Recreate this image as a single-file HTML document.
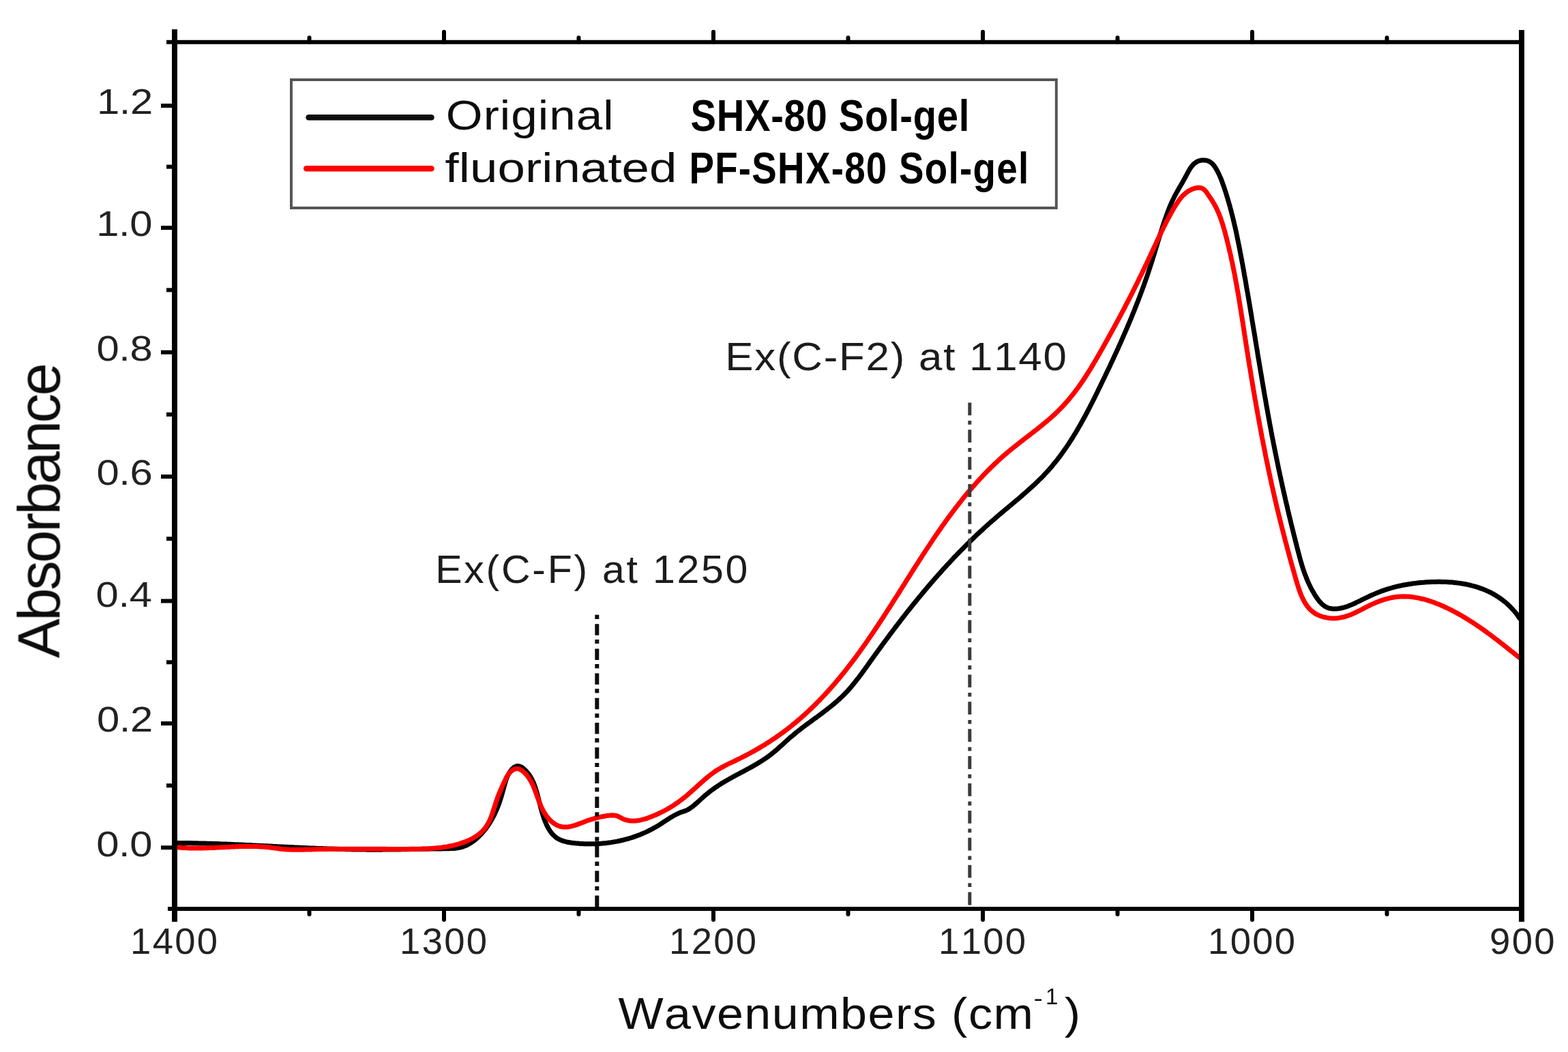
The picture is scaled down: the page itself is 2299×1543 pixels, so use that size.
<!DOCTYPE html>
<html><head><meta charset="utf-8"><title>Absorbance spectra</title>
<style>
html,body{margin:0;padding:0;background:#fff;}
body{width:2299px;height:1543px;overflow:hidden;}
svg{display:block;}
</style></head>
<body>
<svg width="2299" height="1543" viewBox="0 0 2299 1543">
<defs><filter id="soft" x="0" y="0" width="100%" height="100%" filterUnits="userSpaceOnUse"><feGaussianBlur stdDeviation="0.55"/></filter></defs>
<rect width="2299" height="1543" fill="#fff"/>
<g filter="url(#soft)">
<defs><clipPath id="pc"><rect x="256.0" y="61.7" width="1975.0" height="1271.3"/></clipPath></defs>
<g clip-path="url(#pc)" fill="none" stroke-linejoin="round" stroke-linecap="round">
<path d="M256.1,1236.4 259.1,1236.4 262.1,1236.5 265.1,1236.5 268.1,1236.5 271.1,1236.5 274.1,1236.6 277.1,1236.6 280.1,1236.6 283.1,1236.7 286.1,1236.7 289.1,1236.8 292.1,1236.9 295.1,1236.9 298.1,1237.0 301.1,1237.1 304.1,1237.2 307.1,1237.3 310.1,1237.3 313.1,1237.4 316.1,1237.5 319.1,1237.6 322.1,1237.7 325.1,1237.9 328.1,1238.0 331.1,1238.1 334.1,1238.2 337.1,1238.3 340.1,1238.4 343.1,1238.6 346.1,1238.7 349.1,1238.8 352.1,1239.0 355.1,1239.1 358.1,1239.2 361.1,1239.4 364.1,1239.5 367.1,1239.6 370.1,1239.8 373.1,1239.9 376.1,1240.1 379.1,1240.2 382.1,1240.4 385.1,1240.5 388.1,1240.7 391.1,1240.8 394.1,1241.0 397.1,1241.1 400.1,1241.3 403.1,1241.4 406.1,1241.6 409.1,1241.7 412.1,1241.9 415.1,1242.0 418.1,1242.2 421.1,1242.3 424.1,1242.5 427.1,1242.6 430.1,1242.7 433.1,1242.9 436.1,1243.0 439.1,1243.2 442.1,1243.3 445.1,1243.5 448.1,1243.6 451.1,1243.7 454.1,1243.9 457.1,1244.0 460.1,1244.1 463.1,1244.2 466.1,1244.4 469.1,1244.5 472.1,1244.6 475.1,1244.7 478.1,1244.8 481.1,1244.9 484.1,1245.0 487.1,1245.1 490.1,1245.2 493.1,1245.3 496.1,1245.4 499.1,1245.5 502.1,1245.6 505.1,1245.6 508.1,1245.7 511.1,1245.8 514.1,1245.8 517.1,1245.9 520.1,1245.9 523.1,1246.0 526.1,1246.0 529.1,1246.1 532.2,1246.1 535.2,1246.1 538.2,1246.2 541.2,1246.2 544.2,1246.2 547.2,1246.2 550.2,1246.2 553.2,1246.2 556.2,1246.2 559.2,1246.2 562.2,1246.1 565.2,1246.1 568.2,1246.1 571.2,1246.1 574.2,1246.0 577.2,1246.0 580.2,1246.0 583.2,1245.9 586.2,1245.9 589.2,1245.8 592.2,1245.8 595.2,1245.7 598.2,1245.7 601.2,1245.6 604.2,1245.6 607.2,1245.5 610.2,1245.5 613.2,1245.4 616.2,1245.4 619.2,1245.3 622.2,1245.3 625.2,1245.2 628.2,1245.2 631.2,1245.1 634.2,1245.1 637.2,1245.0 640.3,1245.0 643.3,1244.9 646.3,1244.9 649.3,1244.8 652.3,1244.8 655.3,1244.8 658.3,1244.7 661.3,1244.6 664.3,1244.5 667.3,1244.2 670.2,1243.8 673.2,1243.3 676.1,1242.7 679.0,1241.8 681.8,1240.8 684.6,1239.5 687.2,1238.2 689.8,1236.6 692.3,1235.0 694.8,1233.2 697.1,1231.4 699.4,1229.4 701.6,1227.4 703.7,1225.3 705.8,1223.1 707.8,1220.8 709.7,1218.5 711.6,1216.2 713.4,1213.8 715.1,1211.3 716.8,1208.9 718.5,1206.3 720.0,1203.8 721.5,1201.2 722.9,1198.5 724.3,1195.9 725.6,1193.2 726.9,1190.4 728.1,1187.7 729.2,1184.9 730.3,1182.1 731.4,1179.3 732.4,1176.4 733.3,1173.6 734.3,1170.7 735.1,1167.9 736.0,1165.0 736.8,1162.1 737.6,1159.2 738.4,1156.3 739.2,1153.4 740.0,1150.5 740.8,1147.6 741.7,1144.8 742.7,1141.9 743.8,1139.2 745.1,1136.4 746.5,1133.8 748.1,1131.3 750.0,1128.9 752.0,1126.7 754.4,1124.9 757.2,1123.8 760.2,1123.6 763.1,1124.3 765.7,1125.8 768.1,1127.7 770.2,1129.7 772.3,1131.9 774.2,1134.2 776.0,1136.6 777.6,1139.2 779.2,1141.7 780.5,1144.4 781.8,1147.1 783.0,1149.9 784.0,1152.7 785.0,1155.5 785.9,1158.4 786.8,1161.3 787.6,1164.2 788.4,1167.1 789.1,1170.0 789.9,1172.9 790.6,1175.8 791.3,1178.7 792.1,1181.6 792.8,1184.5 793.6,1187.4 794.4,1190.3 795.3,1193.2 796.2,1196.1 797.1,1198.9 798.1,1201.8 799.2,1204.6 800.3,1207.3 801.5,1210.1 802.9,1212.8 804.3,1215.4 805.9,1218.0 807.6,1220.4 809.4,1222.8 811.5,1225.0 813.7,1227.0 816.1,1228.9 818.6,1230.4 821.3,1231.8 824.1,1232.9 826.9,1233.9 829.8,1234.6 832.8,1235.3 835.7,1235.8 838.7,1236.2 841.7,1236.6 844.7,1236.9 847.7,1237.1 850.7,1237.4 853.7,1237.5 856.7,1237.7 859.7,1237.8 862.7,1237.8 865.7,1237.8 868.7,1237.8 871.7,1237.7 874.7,1237.6 877.7,1237.5 880.7,1237.3 883.7,1237.0 886.6,1236.7 889.6,1236.4 892.6,1236.0 895.6,1235.6 898.6,1235.1 901.5,1234.6 904.5,1234.1 907.4,1233.5 910.3,1232.8 913.3,1232.2 916.2,1231.4 919.1,1230.7 922.0,1229.8 924.8,1229.0 927.7,1228.1 930.5,1227.1 933.4,1226.1 936.2,1225.0 939.0,1223.9 941.8,1222.8 944.5,1221.6 947.3,1220.4 950.0,1219.1 952.7,1217.7 955.3,1216.4 958.0,1214.9 960.6,1213.5 963.2,1212.0 965.8,1210.4 968.3,1208.8 970.8,1207.2 973.3,1205.5 975.8,1203.9 978.4,1202.2 980.9,1200.6 983.4,1199.0 986.0,1197.5 988.6,1196.0 991.3,1194.6 994.0,1193.3 996.7,1192.1 999.5,1191.0 1002.4,1190.1 1005.2,1189.1 1008.0,1187.9 1010.6,1186.4 1013.0,1184.7 1015.4,1182.9 1017.8,1181.0 1020.1,1179.0 1022.3,1177.1 1024.5,1175.1 1026.8,1173.0 1029.0,1171.0 1031.2,1169.0 1033.5,1167.0 1035.8,1165.1 1038.1,1163.2 1040.4,1161.3 1042.8,1159.5 1045.2,1157.7 1047.7,1156.0 1050.2,1154.2 1052.7,1152.6 1055.2,1150.9 1057.7,1149.3 1060.3,1147.8 1062.8,1146.2 1065.4,1144.7 1068.0,1143.2 1070.7,1141.7 1073.3,1140.3 1075.9,1138.8 1078.6,1137.4 1081.2,1136.0 1083.9,1134.6 1086.5,1133.2 1089.2,1131.8 1091.8,1130.4 1094.5,1128.9 1097.1,1127.5 1099.7,1126.1 1102.4,1124.6 1105.0,1123.1 1107.6,1121.6 1110.2,1120.1 1112.7,1118.6 1115.3,1117.0 1117.8,1115.4 1120.3,1113.7 1122.8,1112.1 1125.3,1110.3 1127.7,1108.6 1130.1,1106.7 1132.5,1104.9 1134.8,1103.0 1137.1,1101.0 1139.4,1099.1 1141.6,1097.1 1143.8,1095.1 1146.1,1093.1 1148.3,1091.1 1150.5,1089.0 1152.7,1087.0 1155.0,1085.0 1157.2,1083.0 1159.5,1081.0 1161.8,1079.1 1164.1,1077.2 1166.4,1075.3 1168.7,1073.4 1171.1,1071.5 1173.5,1069.7 1175.8,1067.8 1178.2,1066.0 1180.6,1064.2 1183.0,1062.4 1185.5,1060.6 1187.9,1058.9 1190.3,1057.1 1192.7,1055.3 1195.1,1053.5 1197.6,1051.8 1200.0,1050.0 1202.4,1048.2 1204.8,1046.4 1207.2,1044.6 1209.6,1042.8 1212.0,1041.0 1214.4,1039.1 1216.7,1037.3 1219.0,1035.4 1221.4,1033.5 1223.7,1031.5 1225.9,1029.6 1228.2,1027.6 1230.4,1025.6 1232.6,1023.5 1234.8,1021.5 1237.0,1019.4 1239.1,1017.2 1241.1,1015.1 1243.2,1012.9 1245.2,1010.6 1247.2,1008.4 1249.1,1006.1 1251.0,1003.8 1252.9,1001.4 1254.8,999.1 1256.6,996.7 1258.5,994.3 1260.3,992.0 1262.1,989.5 1263.9,987.1 1265.7,984.7 1267.4,982.3 1269.2,979.8 1270.9,977.4 1272.7,975.0 1274.4,972.5 1276.1,970.1 1277.9,967.6 1279.6,965.2 1281.4,962.7 1283.1,960.3 1284.9,957.9 1286.7,955.4 1288.4,953.0 1290.2,950.6 1292.0,948.1 1293.7,945.7 1295.5,943.3 1297.3,940.9 1299.1,938.5 1300.9,936.1 1302.7,933.6 1304.4,931.2 1306.2,928.8 1308.1,926.4 1309.9,924.0 1311.7,921.6 1313.5,919.2 1315.3,916.9 1317.1,914.5 1319.0,912.1 1320.8,909.7 1322.6,907.3 1324.5,905.0 1326.3,902.6 1328.2,900.2 1330.0,897.9 1331.9,895.5 1333.8,893.2 1335.6,890.8 1337.5,888.5 1339.4,886.1 1341.3,883.8 1343.2,881.5 1345.1,879.1 1347.0,876.8 1348.9,874.5 1350.8,872.2 1352.7,869.9 1354.6,867.6 1356.6,865.3 1358.5,863.0 1360.4,860.7 1362.4,858.4 1364.4,856.1 1366.3,853.8 1368.3,851.6 1370.3,849.3 1372.2,847.0 1374.2,844.8 1376.2,842.5 1378.2,840.3 1380.2,838.1 1382.2,835.8 1384.2,833.6 1386.3,831.4 1388.3,829.2 1390.3,827.0 1392.4,824.8 1394.4,822.6 1396.5,820.4 1398.5,818.2 1400.6,816.0 1402.7,813.9 1404.8,811.7 1406.9,809.5 1409.0,807.4 1411.1,805.3 1413.2,803.1 1415.3,801.0 1417.4,798.9 1419.6,796.8 1421.7,794.7 1423.8,792.6 1426.0,790.5 1428.2,788.4 1430.3,786.3 1432.5,784.2 1434.7,782.2 1436.9,780.1 1439.1,778.1 1441.3,776.1 1443.5,774.0 1445.7,772.0 1448.0,770.0 1450.2,768.0 1452.5,766.0 1454.7,764.0 1457.0,762.1 1459.3,760.1 1461.5,758.1 1463.8,756.2 1466.1,754.2 1468.4,752.3 1470.7,750.4 1473.0,748.4 1475.3,746.5 1477.6,744.6 1479.9,742.6 1482.2,740.7 1484.5,738.8 1486.8,736.9 1489.1,734.9 1491.4,733.0 1493.7,731.1 1496.0,729.1 1498.3,727.2 1500.5,725.2 1502.8,723.2 1505.1,721.2 1507.3,719.2 1509.5,717.2 1511.8,715.2 1514.0,713.2 1516.2,711.2 1518.4,709.1 1520.5,707.0 1522.7,704.9 1524.8,702.8 1527.0,700.7 1529.1,698.6 1531.1,696.4 1533.2,694.2 1535.2,692.0 1537.2,689.8 1539.2,687.5 1541.2,685.2 1543.1,682.9 1545.0,680.6 1546.9,678.3 1548.8,676.0 1550.7,673.6 1552.5,671.2 1554.3,668.8 1556.1,666.4 1557.8,664.0 1559.6,661.5 1561.3,659.1 1563.0,656.6 1564.7,654.1 1566.4,651.6 1568.0,649.1 1569.6,646.6 1571.3,644.0 1572.9,641.5 1574.4,638.9 1576.0,636.4 1577.6,633.8 1579.1,631.2 1580.6,628.6 1582.1,626.0 1583.6,623.4 1585.1,620.8 1586.5,618.2 1588.0,615.6 1589.4,612.9 1590.9,610.3 1592.3,607.6 1593.7,605.0 1595.1,602.3 1596.5,599.7 1597.9,597.0 1599.2,594.3 1600.6,591.7 1602.0,589.0 1603.3,586.3 1604.7,583.6 1606.0,580.9 1607.3,578.2 1608.7,575.5 1610.0,572.8 1611.3,570.1 1612.6,567.4 1613.9,564.7 1615.2,562.0 1616.5,559.3 1617.8,556.6 1619.1,553.9 1620.4,551.2 1621.7,548.5 1623.0,545.8 1624.3,543.1 1625.6,540.4 1626.9,537.7 1628.2,534.9 1629.4,532.2 1630.7,529.5 1632.0,526.8 1633.2,524.0 1634.5,521.3 1635.7,518.6 1637.0,515.9 1638.2,513.1 1639.5,510.4 1640.7,507.7 1641.9,504.9 1643.2,502.2 1644.4,499.4 1645.6,496.7 1646.8,493.9 1648.0,491.2 1649.2,488.4 1650.4,485.7 1651.6,482.9 1652.8,480.1 1653.9,477.4 1655.1,474.6 1656.3,471.8 1657.4,469.1 1658.6,466.3 1659.7,463.5 1660.8,460.7 1662.0,458.0 1663.1,455.2 1664.2,452.4 1665.3,449.6 1666.4,446.8 1667.5,444.0 1668.6,441.2 1669.7,438.4 1670.7,435.6 1671.8,432.8 1672.8,430.0 1673.9,427.2 1674.9,424.3 1676.0,421.5 1677.0,418.7 1678.0,415.9 1679.0,413.0 1680.0,410.2 1681.0,407.4 1682.0,404.5 1682.9,401.7 1683.9,398.8 1684.8,396.0 1685.8,393.1 1686.7,390.3 1687.6,387.4 1688.5,384.6 1689.5,381.7 1690.3,378.8 1691.2,376.0 1692.1,373.1 1693.0,370.2 1693.9,367.3 1694.7,364.5 1695.6,361.6 1696.5,358.7 1697.3,355.9 1698.2,353.0 1699.1,350.1 1700.0,347.2 1700.9,344.4 1701.8,341.5 1702.7,338.6 1703.6,335.8 1704.5,332.9 1705.4,330.1 1706.4,327.2 1707.3,324.4 1708.3,321.5 1709.3,318.7 1710.3,315.9 1711.4,313.0 1712.4,310.2 1713.5,307.4 1714.6,304.6 1715.7,301.9 1716.9,299.1 1718.1,296.4 1719.4,293.6 1720.7,290.9 1722.0,288.2 1723.4,285.6 1724.9,282.9 1726.3,280.3 1727.8,277.7 1729.3,275.1 1730.8,272.5 1732.4,269.9 1733.8,267.3 1735.3,264.7 1736.8,262.1 1738.2,259.4 1739.6,256.8 1741.0,254.1 1742.4,251.5 1743.9,248.9 1745.5,246.3 1747.3,243.9 1749.3,241.6 1751.4,239.6 1753.9,237.8 1756.5,236.4 1759.4,235.5 1762.3,235.0 1765.3,234.9 1768.3,235.2 1771.2,236.0 1773.9,237.3 1776.3,239.0 1778.5,241.1 1780.4,243.5 1782.1,245.9 1783.6,248.5 1785.0,251.2 1786.4,253.8 1787.7,256.6 1788.9,259.3 1790.1,262.1 1791.2,264.9 1792.2,267.7 1793.2,270.5 1794.2,273.3 1795.2,276.2 1796.1,279.0 1797.1,281.9 1798.0,284.8 1798.8,287.6 1799.7,290.5 1800.6,293.4 1801.4,296.3 1802.2,299.1 1803.1,302.0 1803.8,304.9 1804.6,307.8 1805.4,310.7 1806.1,313.6 1806.9,316.6 1807.6,319.5 1808.3,322.4 1809.0,325.3 1809.7,328.2 1810.4,331.2 1811.1,334.1 1811.7,337.0 1812.4,339.9 1813.0,342.9 1813.6,345.8 1814.2,348.8 1814.8,351.7 1815.4,354.6 1816.0,357.6 1816.6,360.5 1817.2,363.5 1817.8,366.4 1818.3,369.4 1818.9,372.3 1819.5,375.3 1820.0,378.2 1820.6,381.2 1821.1,384.1 1821.7,387.1 1822.2,390.0 1822.7,393.0 1823.3,395.9 1823.8,398.9 1824.3,401.9 1824.8,404.8 1825.4,407.8 1825.9,410.7 1826.4,413.7 1826.9,416.6 1827.4,419.6 1827.9,422.6 1828.4,425.5 1829.0,428.5 1829.5,431.4 1830.0,434.4 1830.5,437.4 1831.0,440.3 1831.5,443.3 1832.0,446.2 1832.5,449.2 1833.0,452.2 1833.5,455.1 1834.0,458.1 1834.5,461.1 1835.0,464.0 1835.4,467.0 1835.9,469.9 1836.4,472.9 1836.9,475.9 1837.4,478.8 1837.9,481.8 1838.4,484.8 1838.9,487.7 1839.4,490.7 1839.9,493.6 1840.3,496.6 1840.8,499.6 1841.3,502.5 1841.8,505.5 1842.3,508.5 1842.8,511.4 1843.3,514.4 1843.8,517.4 1844.2,520.3 1844.7,523.3 1845.2,526.2 1845.7,529.2 1846.2,532.2 1846.7,535.1 1847.2,538.1 1847.7,541.1 1848.2,544.0 1848.7,547.0 1849.2,549.9 1849.7,552.9 1850.2,555.9 1850.7,558.8 1851.2,561.8 1851.7,564.7 1852.2,567.7 1852.7,570.7 1853.2,573.6 1853.7,576.6 1854.2,579.5 1854.7,582.5 1855.3,585.5 1855.8,588.4 1856.3,591.4 1856.8,594.3 1857.3,597.3 1857.9,600.2 1858.4,603.2 1858.9,606.2 1859.5,609.1 1860.0,612.1 1860.5,615.0 1861.1,618.0 1861.6,620.9 1862.2,623.9 1862.7,626.8 1863.3,629.8 1863.8,632.7 1864.4,635.7 1864.9,638.6 1865.5,641.6 1866.1,644.5 1866.7,647.5 1867.2,650.4 1867.8,653.4 1868.4,656.3 1869.0,659.3 1869.6,662.2 1870.2,665.2 1870.8,668.1 1871.4,671.0 1872.0,674.0 1872.6,676.9 1873.2,679.9 1873.8,682.8 1874.4,685.7 1875.0,688.7 1875.7,691.6 1876.3,694.6 1876.9,697.5 1877.6,700.4 1878.2,703.4 1878.8,706.3 1879.5,709.2 1880.1,712.2 1880.8,715.1 1881.4,718.0 1882.1,720.9 1882.7,723.9 1883.4,726.8 1884.1,729.7 1884.7,732.7 1885.4,735.6 1886.1,738.5 1886.8,741.4 1887.5,744.4 1888.1,747.3 1888.8,750.2 1889.5,753.1 1890.2,756.1 1890.9,759.0 1891.6,761.9 1892.3,764.8 1893.0,767.7 1893.7,770.7 1894.5,773.6 1895.2,776.5 1895.9,779.4 1896.6,782.3 1897.3,785.2 1898.1,788.1 1898.8,791.1 1899.5,794.0 1900.3,796.9 1901.0,799.8 1901.7,802.7 1902.5,805.6 1903.2,808.5 1904.0,811.4 1904.8,814.3 1905.5,817.2 1906.3,820.1 1907.1,823.0 1908.0,825.9 1908.8,828.8 1909.7,831.6 1910.6,834.5 1911.6,837.4 1912.6,840.2 1913.6,843.0 1914.7,845.8 1915.8,848.6 1916.9,851.4 1918.1,854.1 1919.4,856.9 1920.7,859.6 1922.0,862.3 1923.4,864.9 1924.9,867.5 1926.4,870.1 1927.9,872.7 1929.6,875.2 1931.3,877.7 1933.0,880.1 1934.9,882.5 1937.0,884.7 1939.1,886.7 1941.5,888.6 1944.0,890.2 1946.8,891.5 1949.6,892.3 1952.6,892.8 1955.6,893.0 1958.6,893.0 1961.6,892.7 1964.5,892.3 1967.5,891.7 1970.4,891.0 1973.3,890.2 1976.1,889.2 1978.9,888.1 1981.7,887.0 1984.5,885.8 1987.2,884.5 1989.9,883.2 1992.6,881.9 1995.3,880.6 1998.0,879.2 2000.7,877.9 2003.4,876.6 2006.1,875.3 2008.8,874.0 2011.5,872.8 2014.3,871.6 2017.1,870.4 2019.8,869.3 2022.6,868.2 2025.4,867.1 2028.3,866.1 2031.1,865.1 2034.0,864.2 2036.8,863.3 2039.7,862.5 2042.6,861.7 2045.5,860.9 2048.4,860.2 2051.4,859.5 2054.3,858.9 2057.2,858.3 2060.2,857.7 2063.1,857.2 2066.1,856.7 2069.1,856.3 2072.1,855.8 2075.0,855.5 2078.0,855.1 2081.0,854.8 2084.0,854.5 2087.0,854.3 2090.0,854.0 2093.0,853.8 2096.0,853.7 2099.0,853.5 2102.0,853.4 2105.0,853.4 2108.0,853.3 2111.0,853.3 2114.0,853.4 2117.0,853.4 2120.0,853.6 2123.0,853.7 2126.0,853.9 2129.0,854.1 2132.0,854.4 2135.0,854.7 2137.9,855.1 2140.9,855.5 2143.9,856.0 2146.8,856.5 2149.8,857.0 2152.7,857.7 2155.6,858.3 2158.6,859.1 2161.5,859.8 2164.3,860.7 2167.2,861.6 2170.0,862.6 2172.9,863.6 2175.7,864.7 2178.4,865.8 2181.2,867.1 2183.9,868.3 2186.6,869.7 2189.2,871.1 2191.8,872.6 2194.4,874.2 2196.9,875.8 2199.4,877.5 2201.8,879.2 2204.2,881.0 2206.6,882.9 2208.9,884.9 2211.1,886.9 2213.3,889.0 2215.4,891.1 2217.4,893.3 2219.4,895.5 2221.4,897.8 2223.3,900.1 2225.1,902.5 2226.8,905.0 2228.5,907.4" stroke="#000" stroke-width="7"/>
<path d="M256.0,1242.4 259.0,1242.7 262.0,1243.0 265.0,1243.3 268.0,1243.5 271.0,1243.6 274.0,1243.8 277.0,1243.9 280.0,1244.0 283.0,1244.0 286.0,1244.0 289.0,1244.0 292.0,1244.0 295.0,1244.0 298.0,1243.9 301.0,1243.8 304.0,1243.7 307.0,1243.6 310.0,1243.5 313.0,1243.4 316.0,1243.2 319.0,1243.1 322.0,1243.0 325.0,1242.8 328.0,1242.7 331.0,1242.5 334.0,1242.4 337.1,1242.2 340.1,1242.1 343.1,1242.0 346.1,1241.8 349.1,1241.7 352.1,1241.6 355.1,1241.6 358.1,1241.5 361.1,1241.5 364.1,1241.5 367.1,1241.5 370.1,1241.5 373.1,1241.5 376.1,1241.6 379.1,1241.7 382.1,1241.9 385.1,1242.1 388.1,1242.3 391.1,1242.5 394.1,1242.8 397.1,1243.2 400.1,1243.5 403.0,1244.0 406.0,1244.4 409.0,1244.8 412.0,1245.2 415.0,1245.5 418.0,1245.7 421.0,1245.9 424.0,1246.1 427.0,1246.2 430.0,1246.3 433.0,1246.3 436.0,1246.3 439.0,1246.3 442.0,1246.3 445.0,1246.2 448.0,1246.1 451.0,1246.0 454.0,1246.0 457.0,1245.9 460.0,1245.8 463.0,1245.7 466.0,1245.6 469.0,1245.6 472.0,1245.5 475.0,1245.5 478.1,1245.4 481.1,1245.4 484.1,1245.3 487.1,1245.3 490.1,1245.3 493.1,1245.2 496.1,1245.2 499.1,1245.2 502.1,1245.2 505.1,1245.2 508.1,1245.2 511.1,1245.2 514.1,1245.2 517.1,1245.2 520.1,1245.2 523.1,1245.2 526.1,1245.2 529.1,1245.2 532.1,1245.2 535.2,1245.2 538.2,1245.2 541.2,1245.2 544.2,1245.2 547.2,1245.3 550.2,1245.3 553.2,1245.3 556.2,1245.3 559.2,1245.3 562.2,1245.3 565.2,1245.3 568.2,1245.4 571.2,1245.4 574.2,1245.4 577.2,1245.4 580.2,1245.4 583.2,1245.4 586.2,1245.4 589.3,1245.4 592.3,1245.4 595.3,1245.4 598.3,1245.4 601.3,1245.3 604.3,1245.3 607.3,1245.3 610.3,1245.3 613.3,1245.2 616.3,1245.2 619.3,1245.1 622.3,1245.0 625.3,1244.9 628.3,1244.7 631.3,1244.5 634.3,1244.3 637.3,1244.1 640.3,1243.8 643.3,1243.5 646.3,1243.2 649.3,1242.8 652.2,1242.3 655.2,1241.9 658.2,1241.3 661.1,1240.7 664.0,1240.1 667.0,1239.4 669.9,1238.6 672.8,1237.8 675.6,1236.9 678.5,1235.9 681.3,1234.9 684.1,1233.8 686.9,1232.6 689.6,1231.4 692.3,1230.0 694.9,1228.5 697.4,1227.0 699.9,1225.3 702.3,1223.5 704.7,1221.6 706.9,1219.5 708.9,1217.3 710.9,1215.1 712.7,1212.6 714.3,1210.1 715.8,1207.5 717.2,1204.8 718.4,1202.1 719.6,1199.3 720.7,1196.5 721.7,1193.7 722.6,1190.9 723.6,1188.0 724.5,1185.1 725.4,1182.3 726.3,1179.4 727.2,1176.5 728.2,1173.7 729.2,1170.9 730.2,1168.0 731.3,1165.2 732.5,1162.5 733.6,1159.7 734.8,1156.9 736.0,1154.2 737.3,1151.4 738.5,1148.7 739.8,1146.0 741.1,1143.3 742.4,1140.6 743.9,1138.0 745.6,1135.5 747.5,1133.1 749.6,1131.0 752.0,1129.3 754.8,1128.0 757.7,1127.4 760.7,1127.8 763.4,1129.0 765.9,1130.7 768.2,1132.6 770.3,1134.7 772.3,1136.9 774.2,1139.3 775.9,1141.8 777.5,1144.3 779.0,1146.9 780.3,1149.6 781.6,1152.3 782.8,1155.1 783.9,1157.9 784.9,1160.7 786.0,1163.5 787.0,1166.4 788.0,1169.2 789.0,1172.0 790.1,1174.8 791.2,1177.6 792.3,1180.4 793.5,1183.2 794.8,1185.9 796.1,1188.6 797.6,1191.2 799.2,1193.8 800.9,1196.3 802.7,1198.6 804.6,1200.9 806.7,1203.1 808.9,1205.2 811.2,1207.0 813.7,1208.7 816.3,1210.2 819.1,1211.4 821.9,1212.3 824.9,1212.9 827.9,1213.1 830.9,1213.0 833.9,1212.7 836.8,1212.1 839.7,1211.4 842.6,1210.6 845.5,1209.6 848.3,1208.6 851.1,1207.6 853.9,1206.5 856.7,1205.4 859.5,1204.3 862.4,1203.3 865.2,1202.4 868.1,1201.5 871.0,1200.6 873.9,1199.8 876.8,1199.1 879.7,1198.4 882.7,1197.8 885.6,1197.2 888.6,1196.7 891.5,1196.2 894.5,1195.9 897.5,1195.7 900.5,1195.9 903.5,1196.4 906.3,1197.4 909.0,1198.8 911.6,1200.2 914.3,1201.5 917.2,1202.5 920.1,1203.2 923.0,1203.7 926.0,1204.0 929.0,1204.1 932.0,1203.9 935.0,1203.6 938.0,1203.1 940.9,1202.4 943.8,1201.7 946.7,1200.8 949.6,1199.9 952.4,1198.8 955.2,1197.8 958.0,1196.6 960.8,1195.5 963.5,1194.3 966.2,1193.0 969.0,1191.7 971.6,1190.4 974.3,1189.0 977.0,1187.5 979.6,1186.1 982.2,1184.5 984.7,1183.0 987.3,1181.4 989.8,1179.7 992.3,1178.0 994.7,1176.3 997.1,1174.5 999.5,1172.7 1001.9,1170.9 1004.3,1169.0 1006.6,1167.1 1008.9,1165.1 1011.1,1163.1 1013.4,1161.2 1015.6,1159.1 1017.9,1157.1 1020.1,1155.1 1022.3,1153.1 1024.5,1151.1 1026.8,1149.1 1029.0,1147.1 1031.3,1145.1 1033.5,1143.1 1035.8,1141.2 1038.2,1139.3 1040.5,1137.4 1042.9,1135.5 1045.3,1133.8 1047.7,1132.0 1050.2,1130.3 1052.8,1128.7 1055.4,1127.2 1058.0,1125.7 1060.6,1124.3 1063.3,1122.9 1066.0,1121.5 1068.6,1120.2 1071.4,1118.9 1074.1,1117.6 1076.8,1116.3 1079.5,1115.0 1082.2,1113.7 1084.9,1112.4 1087.6,1111.0 1090.3,1109.7 1092.9,1108.3 1095.6,1106.9 1098.3,1105.5 1100.9,1104.0 1103.5,1102.6 1106.2,1101.1 1108.8,1099.6 1111.4,1098.1 1114.0,1096.6 1116.5,1095.1 1119.1,1093.5 1121.7,1091.9 1124.2,1090.3 1126.8,1088.7 1129.3,1087.1 1131.8,1085.4 1134.3,1083.8 1136.8,1082.1 1139.2,1080.4 1141.7,1078.7 1144.2,1076.9 1146.6,1075.2 1149.0,1073.4 1151.4,1071.6 1153.8,1069.8 1156.2,1067.9 1158.6,1066.1 1160.9,1064.2 1163.2,1062.3 1165.6,1060.4 1167.9,1058.5 1170.2,1056.5 1172.5,1054.6 1174.7,1052.6 1177.0,1050.6 1179.2,1048.6 1181.4,1046.6 1183.7,1044.5 1185.8,1042.5 1188.0,1040.4 1190.2,1038.4 1192.4,1036.3 1194.5,1034.2 1196.6,1032.0 1198.8,1029.9 1200.9,1027.8 1202.9,1025.6 1205.0,1023.4 1207.1,1021.2 1209.1,1019.0 1211.2,1016.8 1213.2,1014.6 1215.2,1012.4 1217.2,1010.1 1219.2,1007.9 1221.2,1005.6 1223.2,1003.4 1225.1,1001.1 1227.1,998.8 1229.0,996.5 1230.9,994.2 1232.8,991.8 1234.7,989.5 1236.6,987.2 1238.5,984.8 1240.4,982.5 1242.2,980.1 1244.1,977.7 1245.9,975.4 1247.7,973.0 1249.6,970.6 1251.4,968.2 1253.2,965.8 1255.0,963.4 1256.7,961.0 1258.5,958.5 1260.3,956.1 1262.0,953.7 1263.8,951.2 1265.5,948.8 1267.3,946.3 1269.0,943.9 1270.7,941.4 1272.4,938.9 1274.1,936.5 1275.8,934.0 1277.5,931.5 1279.2,929.0 1280.9,926.5 1282.6,924.0 1284.3,921.5 1285.9,919.0 1287.6,916.5 1289.2,914.0 1290.9,911.5 1292.5,909.0 1294.2,906.5 1295.8,904.0 1297.5,901.4 1299.1,898.9 1300.7,896.4 1302.3,893.8 1304.0,891.3 1305.6,888.8 1307.2,886.3 1308.8,883.7 1310.4,881.2 1312.0,878.6 1313.6,876.1 1315.3,873.6 1316.9,871.0 1318.5,868.5 1320.1,865.9 1321.7,863.4 1323.3,860.9 1324.9,858.3 1326.5,855.8 1328.1,853.2 1329.7,850.7 1331.3,848.1 1332.9,845.6 1334.5,843.1 1336.1,840.5 1337.7,838.0 1339.3,835.4 1340.9,832.9 1342.5,830.4 1344.2,827.8 1345.8,825.3 1347.4,822.8 1349.0,820.2 1350.7,817.7 1352.3,815.2 1353.9,812.7 1355.6,810.1 1357.2,807.6 1358.9,805.1 1360.5,802.6 1362.2,800.1 1363.8,797.6 1365.5,795.1 1367.2,792.6 1368.8,790.1 1370.5,787.6 1372.2,785.1 1373.9,782.7 1375.6,780.2 1377.3,777.7 1379.1,775.2 1380.8,772.8 1382.5,770.3 1384.3,767.9 1386.0,765.4 1387.8,763.0 1389.5,760.6 1391.3,758.1 1393.1,755.7 1394.9,753.3 1396.7,750.9 1398.5,748.5 1400.3,746.1 1402.1,743.7 1404.0,741.3 1405.8,739.0 1407.7,736.6 1409.5,734.3 1411.4,731.9 1413.3,729.6 1415.2,727.2 1417.1,724.9 1419.1,722.6 1421.0,720.3 1422.9,718.0 1424.9,715.8 1426.9,713.5 1428.9,711.2 1430.9,709.0 1432.9,706.7 1434.9,704.5 1436.9,702.3 1439.0,700.1 1441.0,697.9 1443.1,695.7 1445.2,693.6 1447.3,691.4 1449.4,689.3 1451.5,687.2 1453.7,685.1 1455.8,683.0 1458.0,680.9 1460.2,678.8 1462.4,676.8 1464.6,674.7 1466.8,672.7 1469.0,670.7 1471.3,668.7 1473.6,666.7 1475.8,664.8 1478.1,662.8 1480.4,660.9 1482.8,659.0 1485.1,657.1 1487.4,655.2 1489.8,653.4 1492.2,651.5 1494.5,649.6 1496.9,647.8 1499.3,645.9 1501.6,644.1 1504.0,642.3 1506.4,640.4 1508.8,638.6 1511.2,636.8 1513.5,634.9 1515.9,633.1 1518.3,631.2 1520.6,629.4 1523.0,627.5 1525.4,625.6 1527.7,623.7 1530.0,621.8 1532.3,619.9 1534.6,618.0 1536.9,616.1 1539.2,614.1 1541.5,612.1 1543.7,610.1 1545.9,608.1 1548.1,606.0 1550.3,603.9 1552.4,601.8 1554.5,599.7 1556.6,597.5 1558.7,595.4 1560.7,593.1 1562.7,590.9 1564.7,588.7 1566.7,586.4 1568.6,584.1 1570.5,581.7 1572.4,579.4 1574.2,577.0 1576.1,574.6 1577.9,572.2 1579.7,569.8 1581.4,567.4 1583.2,564.9 1584.9,562.5 1586.6,560.0 1588.3,557.5 1589.9,555.0 1591.6,552.5 1593.2,550.0 1594.8,547.4 1596.4,544.9 1598.0,542.3 1599.6,539.8 1601.1,537.2 1602.7,534.6 1604.2,532.0 1605.8,529.4 1607.3,526.8 1608.8,524.2 1610.3,521.6 1611.8,519.0 1613.2,516.4 1614.7,513.8 1616.2,511.2 1617.7,508.6 1619.1,505.9 1620.6,503.3 1622.1,500.7 1623.5,498.1 1625.0,495.4 1626.4,492.8 1627.9,490.2 1629.3,487.5 1630.8,484.9 1632.2,482.3 1633.7,479.6 1635.1,477.0 1636.5,474.3 1638.0,471.7 1639.4,469.1 1640.8,466.4 1642.2,463.8 1643.6,461.1 1645.1,458.4 1646.5,455.8 1647.9,453.1 1649.3,450.5 1650.6,447.8 1652.0,445.1 1653.4,442.5 1654.8,439.8 1656.2,437.1 1657.5,434.5 1658.9,431.8 1660.3,429.1 1661.6,426.4 1663.0,423.7 1664.3,421.0 1665.6,418.3 1667.0,415.6 1668.3,413.0 1669.6,410.3 1670.9,407.6 1672.3,404.9 1673.6,402.1 1674.9,399.4 1676.2,396.7 1677.5,394.0 1678.8,391.3 1680.1,388.6 1681.4,385.9 1682.6,383.2 1683.9,380.4 1685.2,377.7 1686.5,375.0 1687.7,372.3 1689.0,369.6 1690.3,366.8 1691.5,364.1 1692.8,361.4 1694.1,358.7 1695.4,355.9 1696.6,353.2 1697.9,350.5 1699.2,347.8 1700.5,345.0 1701.8,342.3 1703.1,339.6 1704.4,336.9 1705.7,334.2 1707.1,331.5 1708.4,328.9 1709.8,326.2 1711.2,323.5 1712.6,320.9 1714.0,318.2 1715.4,315.6 1716.9,312.9 1718.3,310.3 1719.8,307.7 1721.3,305.1 1722.9,302.5 1724.5,300.0 1726.1,297.4 1727.8,295.0 1729.6,292.5 1731.4,290.2 1733.4,287.9 1735.5,285.8 1737.8,283.8 1740.1,281.9 1742.6,280.2 1745.2,278.7 1747.9,277.5 1750.8,276.4 1753.7,275.7 1756.7,275.3 1759.7,275.4 1762.5,276.2 1765.1,277.8 1767.3,279.9 1769.1,282.2 1770.8,284.7 1772.5,287.2 1774.2,289.7 1775.9,292.2 1777.5,294.7 1779.0,297.3 1780.6,299.9 1782.0,302.5 1783.4,305.2 1784.7,307.9 1785.9,310.7 1787.1,313.4 1788.2,316.2 1789.3,319.0 1790.3,321.9 1791.2,324.7 1792.2,327.6 1793.1,330.4 1793.9,333.3 1794.8,336.2 1795.6,339.1 1796.4,342.0 1797.1,344.9 1797.9,347.8 1798.7,350.7 1799.4,353.6 1800.1,356.5 1800.8,359.5 1801.5,362.4 1802.2,365.3 1802.9,368.2 1803.6,371.2 1804.3,374.1 1804.9,377.0 1805.5,380.0 1806.2,382.9 1806.8,385.8 1807.4,388.8 1808.0,391.7 1808.6,394.7 1809.2,397.6 1809.8,400.6 1810.4,403.5 1810.9,406.5 1811.5,409.4 1812.0,412.4 1812.6,415.3 1813.1,418.3 1813.6,421.3 1814.1,424.2 1814.7,427.2 1815.2,430.1 1815.7,433.1 1816.2,436.1 1816.7,439.0 1817.2,442.0 1817.7,445.0 1818.1,447.9 1818.6,450.9 1819.1,453.9 1819.6,456.8 1820.0,459.8 1820.5,462.8 1821.0,465.7 1821.4,468.7 1821.9,471.7 1822.4,474.6 1822.8,477.6 1823.3,480.6 1823.7,483.6 1824.2,486.5 1824.6,489.5 1825.1,492.5 1825.6,495.4 1826.0,498.4 1826.5,501.4 1826.9,504.3 1827.4,507.3 1827.9,510.3 1828.3,513.3 1828.8,516.2 1829.3,519.2 1829.7,522.2 1830.2,525.1 1830.7,528.1 1831.2,531.1 1831.6,534.0 1832.1,537.0 1832.6,540.0 1833.1,542.9 1833.6,545.9 1834.0,548.9 1834.5,551.8 1835.0,554.8 1835.5,557.8 1836.0,560.7 1836.5,563.7 1837.0,566.7 1837.5,569.6 1838.0,572.6 1838.5,575.5 1839.0,578.5 1839.5,581.5 1840.0,584.4 1840.6,587.4 1841.1,590.4 1841.6,593.3 1842.1,596.3 1842.6,599.2 1843.2,602.2 1843.7,605.2 1844.2,608.1 1844.8,611.1 1845.3,614.0 1845.8,617.0 1846.4,619.9 1846.9,622.9 1847.5,625.8 1848.0,628.8 1848.6,631.8 1849.1,634.7 1849.7,637.7 1850.2,640.6 1850.8,643.6 1851.4,646.5 1852.0,649.5 1852.5,652.4 1853.1,655.4 1853.7,658.3 1854.3,661.3 1854.9,664.2 1855.4,667.2 1856.0,670.1 1856.6,673.1 1857.2,676.0 1857.8,678.9 1858.5,681.9 1859.1,684.8 1859.7,687.8 1860.3,690.7 1860.9,693.7 1861.6,696.6 1862.2,699.5 1862.8,702.5 1863.5,705.4 1864.1,708.3 1864.7,711.3 1865.4,714.2 1866.1,717.1 1866.7,720.1 1867.4,723.0 1868.0,725.9 1868.7,728.9 1869.4,731.8 1870.1,734.7 1870.8,737.7 1871.4,740.6 1872.1,743.5 1872.8,746.4 1873.5,749.3 1874.2,752.3 1874.9,755.2 1875.7,758.1 1876.4,761.0 1877.1,763.9 1877.8,766.9 1878.6,769.8 1879.3,772.7 1880.0,775.6 1880.8,778.5 1881.5,781.4 1882.3,784.3 1883.0,787.3 1883.8,790.2 1884.5,793.1 1885.3,796.0 1886.1,798.9 1886.8,801.8 1887.6,804.7 1888.4,807.6 1889.2,810.5 1890.0,813.4 1890.7,816.3 1891.5,819.2 1892.3,822.1 1893.1,825.0 1893.9,827.9 1894.7,830.8 1895.6,833.7 1896.4,836.6 1897.2,839.5 1898.0,842.4 1898.8,845.2 1899.6,848.1 1900.5,851.0 1901.3,853.9 1902.2,856.8 1903.1,859.7 1904.0,862.5 1905.0,865.4 1906.0,868.2 1907.0,871.0 1908.2,873.8 1909.4,876.5 1910.7,879.2 1912.1,881.9 1913.6,884.5 1915.3,887.0 1917.0,889.4 1918.9,891.8 1921.0,894.0 1923.2,896.0 1925.5,897.9 1928.0,899.6 1930.6,901.1 1933.3,902.4 1936.1,903.6 1938.9,904.5 1941.8,905.3 1944.8,905.9 1947.7,906.4 1950.7,906.7 1953.7,906.9 1956.7,906.9 1959.7,906.7 1962.7,906.4 1965.7,905.9 1968.6,905.3 1971.6,904.6 1974.4,903.7 1977.3,902.7 1980.1,901.7 1982.9,900.5 1985.6,899.3 1988.3,898.0 1991.0,896.7 1993.7,895.4 1996.4,894.0 1999.1,892.6 2001.7,891.2 2004.4,889.9 2007.1,888.5 2009.8,887.2 2012.5,885.9 2015.3,884.7 2018.0,883.5 2020.8,882.4 2023.6,881.4 2026.5,880.4 2029.3,879.4 2032.2,878.6 2035.1,877.8 2038.0,877.1 2041.0,876.5 2043.9,876.0 2046.9,875.5 2049.9,875.2 2052.9,875.0 2055.9,874.9 2058.9,874.8 2061.9,874.9 2064.9,875.1 2067.9,875.3 2070.9,875.7 2073.9,876.1 2076.8,876.6 2079.8,877.1 2082.7,877.8 2085.7,878.5 2088.6,879.2 2091.5,880.0 2094.3,880.9 2097.2,881.8 2100.0,882.8 2102.9,883.8 2105.7,884.9 2108.5,886.0 2111.3,887.1 2114.0,888.3 2116.8,889.5 2119.5,890.8 2122.2,892.0 2124.9,893.4 2127.6,894.7 2130.3,896.1 2132.9,897.5 2135.6,898.9 2138.2,900.4 2140.8,901.8 2143.4,903.3 2146.0,904.9 2148.6,906.4 2151.2,908.0 2153.7,909.6 2156.3,911.2 2158.8,912.8 2161.3,914.4 2163.8,916.1 2166.3,917.8 2168.8,919.5 2171.3,921.2 2173.7,922.9 2176.2,924.7 2178.6,926.4 2181.0,928.2 2183.5,930.0 2185.9,931.7 2188.3,933.5 2190.7,935.4 2193.1,937.2 2195.5,939.0 2197.8,940.8 2200.2,942.7 2202.6,944.5 2204.9,946.4 2207.3,948.3 2209.7,950.1 2212.0,952.0 2214.4,953.9 2216.7,955.7 2219.1,957.6 2221.4,959.5 2223.7,961.4 2226.1,963.3 2228.4,965.1" stroke="#ff0000" stroke-width="7"/>
</g>
<line x1="875.3" y1="901.7" x2="875.3" y2="1333" stroke="#111" stroke-width="6" stroke-dasharray="6.2 7.3 16.5 6.2"/>
<line x1="1421.8" y1="590.4" x2="1421.8" y2="1333" stroke="#3a3a3a" stroke-width="5" stroke-dasharray="18.8 7.8 5.8 7.5"/>
<g stroke="#000" stroke-linecap="butt" fill="none">
<line x1="244.0" y1="61.7" x2="2231.0" y2="61.7" stroke-width="6"/>
<line x1="246.0" y1="1333.0" x2="2231.0" y2="1333.0" stroke-width="6"/>
<line x1="256.0" y1="43.0" x2="256.0" y2="1352.0" stroke-width="8"/>
<line x1="2231.0" y1="44.0" x2="2231.0" y2="1352.0" stroke-width="8"/>
<line x1="453.5" y1="1333.0" x2="453.5" y2="1341.0" stroke-width="6" stroke-linecap="round"/>
<line x1="453.5" y1="61.7" x2="453.5" y2="55.2" stroke-width="6" stroke-linecap="round"/>
<line x1="651.0" y1="1333.0" x2="651.0" y2="1349.0" stroke-width="6" stroke-linecap="round"/>
<line x1="651.0" y1="61.7" x2="651.0" y2="46.7" stroke-width="6" stroke-linecap="round"/>
<line x1="848.5" y1="1333.0" x2="848.5" y2="1341.0" stroke-width="6" stroke-linecap="round"/>
<line x1="848.5" y1="61.7" x2="848.5" y2="55.2" stroke-width="6" stroke-linecap="round"/>
<line x1="1046.0" y1="1333.0" x2="1046.0" y2="1349.0" stroke-width="6" stroke-linecap="round"/>
<line x1="1046.0" y1="61.7" x2="1046.0" y2="46.7" stroke-width="6" stroke-linecap="round"/>
<line x1="1243.5" y1="1333.0" x2="1243.5" y2="1341.0" stroke-width="6" stroke-linecap="round"/>
<line x1="1243.5" y1="61.7" x2="1243.5" y2="55.2" stroke-width="6" stroke-linecap="round"/>
<line x1="1441.0" y1="1333.0" x2="1441.0" y2="1349.0" stroke-width="6" stroke-linecap="round"/>
<line x1="1441.0" y1="61.7" x2="1441.0" y2="46.7" stroke-width="6" stroke-linecap="round"/>
<line x1="1638.5" y1="1333.0" x2="1638.5" y2="1341.0" stroke-width="6" stroke-linecap="round"/>
<line x1="1638.5" y1="61.7" x2="1638.5" y2="55.2" stroke-width="6" stroke-linecap="round"/>
<line x1="1836.0" y1="1333.0" x2="1836.0" y2="1349.0" stroke-width="6" stroke-linecap="round"/>
<line x1="1836.0" y1="61.7" x2="1836.0" y2="46.7" stroke-width="6" stroke-linecap="round"/>
<line x1="2033.5" y1="1333.0" x2="2033.5" y2="1341.0" stroke-width="6" stroke-linecap="round"/>
<line x1="2033.5" y1="61.7" x2="2033.5" y2="55.2" stroke-width="6" stroke-linecap="round"/>
<line x1="236.0" y1="1243.2" x2="256.0" y2="1243.2" stroke-width="6"/>
<line x1="244.0" y1="1152.2" x2="256.0" y2="1152.2" stroke-width="6"/>
<line x1="236.0" y1="1061.1" x2="256.0" y2="1061.1" stroke-width="6"/>
<line x1="244.0" y1="971.3" x2="256.0" y2="971.3" stroke-width="6"/>
<line x1="236.0" y1="881.5" x2="256.0" y2="881.5" stroke-width="6"/>
<line x1="244.0" y1="790.2" x2="256.0" y2="790.2" stroke-width="6"/>
<line x1="236.0" y1="699.0" x2="256.0" y2="699.0" stroke-width="6"/>
<line x1="244.0" y1="607.9" x2="256.0" y2="607.9" stroke-width="6"/>
<line x1="236.0" y1="516.7" x2="256.0" y2="516.7" stroke-width="6"/>
<line x1="244.0" y1="425.4" x2="256.0" y2="425.4" stroke-width="6"/>
<line x1="236.0" y1="334.1" x2="256.0" y2="334.1" stroke-width="6"/>
<line x1="244.0" y1="244.6" x2="256.0" y2="244.6" stroke-width="6"/>
<line x1="236.0" y1="155.0" x2="256.0" y2="155.0" stroke-width="6"/>
</g>
<text x="0" y="0" transform="translate(141.21,1255.80) scale(1.1500,1)" style='font-family:"Liberation Sans",Arial,sans-serif;font-size:52.00px;font-weight:normal;fill:#222;letter-spacing:-0.348px;font-kerning:none;'>0.0</text>
<text x="0" y="0" transform="translate(141.88,1073.30) scale(1.1500,1)" style='font-family:"Liberation Sans",Arial,sans-serif;font-size:52.00px;font-weight:normal;fill:#222;letter-spacing:-0.348px;font-kerning:none;'>0.2</text>
<text x="0" y="0" transform="translate(140.62,890.00) scale(1.1500,1)" style='font-family:"Liberation Sans",Arial,sans-serif;font-size:52.00px;font-weight:normal;fill:#222;letter-spacing:-0.348px;font-kerning:none;'>0.4</text>
<text x="0" y="0" transform="translate(141.50,711.30) scale(1.1500,1)" style='font-family:"Liberation Sans",Arial,sans-serif;font-size:52.00px;font-weight:normal;fill:#222;letter-spacing:-0.348px;font-kerning:none;'>0.6</text>
<text x="0" y="0" transform="translate(141.47,529.40) scale(1.1500,1)" style='font-family:"Liberation Sans",Arial,sans-serif;font-size:52.00px;font-weight:normal;fill:#222;letter-spacing:-0.348px;font-kerning:none;'>0.8</text>
<text x="0" y="0" transform="translate(141.21,346.30) scale(1.1500,1)" style='font-family:"Liberation Sans",Arial,sans-serif;font-size:52.00px;font-weight:normal;fill:#222;letter-spacing:-0.348px;font-kerning:none;'>1.0</text>
<text x="0" y="0" transform="translate(141.88,167.30) scale(1.1500,1)" style='font-family:"Liberation Sans",Arial,sans-serif;font-size:52.00px;font-weight:normal;fill:#222;letter-spacing:-0.348px;font-kerning:none;'>1.2</text>
<text x="0" y="0" transform="translate(191.02,1399.40) scale(1.0283,1)" style='font-family:"Liberation Sans",Arial,sans-serif;font-size:53.00px;font-weight:normal;fill:#222;letter-spacing:2.237px;font-kerning:none;'>1400</text>
<text x="0" y="0" transform="translate(586.02,1399.40) scale(1.0283,1)" style='font-family:"Liberation Sans",Arial,sans-serif;font-size:53.00px;font-weight:normal;fill:#222;letter-spacing:2.237px;font-kerning:none;'>1300</text>
<text x="0" y="0" transform="translate(981.02,1399.40) scale(1.0283,1)" style='font-family:"Liberation Sans",Arial,sans-serif;font-size:53.00px;font-weight:normal;fill:#222;letter-spacing:2.237px;font-kerning:none;'>1200</text>
<text x="0" y="0" transform="translate(1376.02,1399.40) scale(1.0283,1)" style='font-family:"Liberation Sans",Arial,sans-serif;font-size:53.00px;font-weight:normal;fill:#222;letter-spacing:2.237px;font-kerning:none;'>1100</text>
<text x="0" y="0" transform="translate(1771.02,1399.40) scale(1.0283,1)" style='font-family:"Liberation Sans",Arial,sans-serif;font-size:53.00px;font-weight:normal;fill:#222;letter-spacing:2.237px;font-kerning:none;'>1000</text>
<text x="0" y="0" transform="translate(2184.02,1399.40) scale(1.0283,1)" style='font-family:"Liberation Sans",Arial,sans-serif;font-size:53.00px;font-weight:normal;fill:#222;letter-spacing:2.237px;font-kerning:none;'>900</text>
<text x="0" y="0" transform="translate(87.40,965.30) rotate(-90) scale(0.9886,1)" style='font-family:"Liberation Sans",Arial,sans-serif;font-size:88.00px;font-weight:normal;fill:#111;letter-spacing:-3.480px;font-kerning:none;'>Absorbance</text>
<text x="0" y="0" transform="translate(906.40,1508.90) scale(1.0740,1)" style='font-family:"Liberation Sans",Arial,sans-serif;font-size:65.30px;font-weight:normal;fill:#111;letter-spacing:1.332px;font-kerning:none;'>Wavenumbers (cm</text>
<text x="0" y="0" transform="translate(1515.50,1475.80) scale(1.2121,1)" style='font-family:"Liberation Sans",Arial,sans-serif;font-size:33.00px;font-weight:normal;fill:#111;letter-spacing:0.000px;font-kerning:none;'>-</text>
<text x="0" y="0" transform="translate(1533.00,1472.90) scale(1.0000,1)" style='font-family:"Liberation Sans",Arial,sans-serif;font-size:33.00px;font-weight:normal;fill:#111;letter-spacing:0.000px;font-kerning:none;'>1</text>
<text x="0" y="0" transform="translate(1560.78,1508.90) scale(1.0740,1)" style='font-family:"Liberation Sans",Arial,sans-serif;font-size:65.30px;font-weight:normal;fill:#111;letter-spacing:0.000px;font-kerning:none;'>)</text>
<text x="0" y="0" transform="translate(1063.36,543.30) scale(1.0854,1)" style='font-family:"Liberation Sans",Arial,sans-serif;font-size:57.00px;font-weight:normal;fill:#1a1a1a;letter-spacing:1.603px;font-kerning:none;'>Ex(C-F2) at 1140</text>
<text x="0" y="0" transform="translate(638.20,854.80) scale(1.0356,1)" style='font-family:"Liberation Sans",Arial,sans-serif;font-size:57.00px;font-weight:normal;fill:#1a1a1a;letter-spacing:2.646px;font-kerning:none;'>Ex(C-F) at 1250</text>
<rect x="427" y="117" width="1121.8" height="188" fill="none" stroke="#555" stroke-width="4"/>
<line x1="452.6" y1="172.3" x2="632.5" y2="172.3" stroke="#111" stroke-width="8.5" stroke-linecap="round"/>
<line x1="449.3" y1="247.3" x2="632.5" y2="247.3" stroke="#ff0000" stroke-width="8.5" stroke-linecap="round"/>
<text x="0" y="0" transform="translate(653.80,189.90) scale(1.1359,1)" style='font-family:"Liberation Sans",Arial,sans-serif;font-size:61.00px;font-weight:normal;fill:#0a0a0a;letter-spacing:0.907px;font-kerning:none;'>Original</text>
<text x="0" y="0" transform="translate(652.60,267.30) scale(1.1913,1)" style='font-family:"Liberation Sans",Arial,sans-serif;font-size:61.00px;font-weight:normal;fill:#0a0a0a;letter-spacing:0.050px;font-kerning:none;'>fluorinated</text>
<text x="0" y="0" transform="translate(1012.56,191.60) scale(0.8643,1)" style='font-family:"Liberation Sans",Arial,sans-serif;font-size:65.00px;font-weight:bold;fill:#000;letter-spacing:0.810px;font-kerning:none;'>SHX-80 Sol-gel</text>
<text x="0" y="0" transform="translate(1010.40,268.80) scale(0.8418,1)" style='font-family:"Liberation Sans",Arial,sans-serif;font-size:65.00px;font-weight:bold;fill:#000;letter-spacing:1.520px;font-kerning:none;'>PF-SHX-80 Sol-gel</text>
</g>
</svg>
</body></html>
